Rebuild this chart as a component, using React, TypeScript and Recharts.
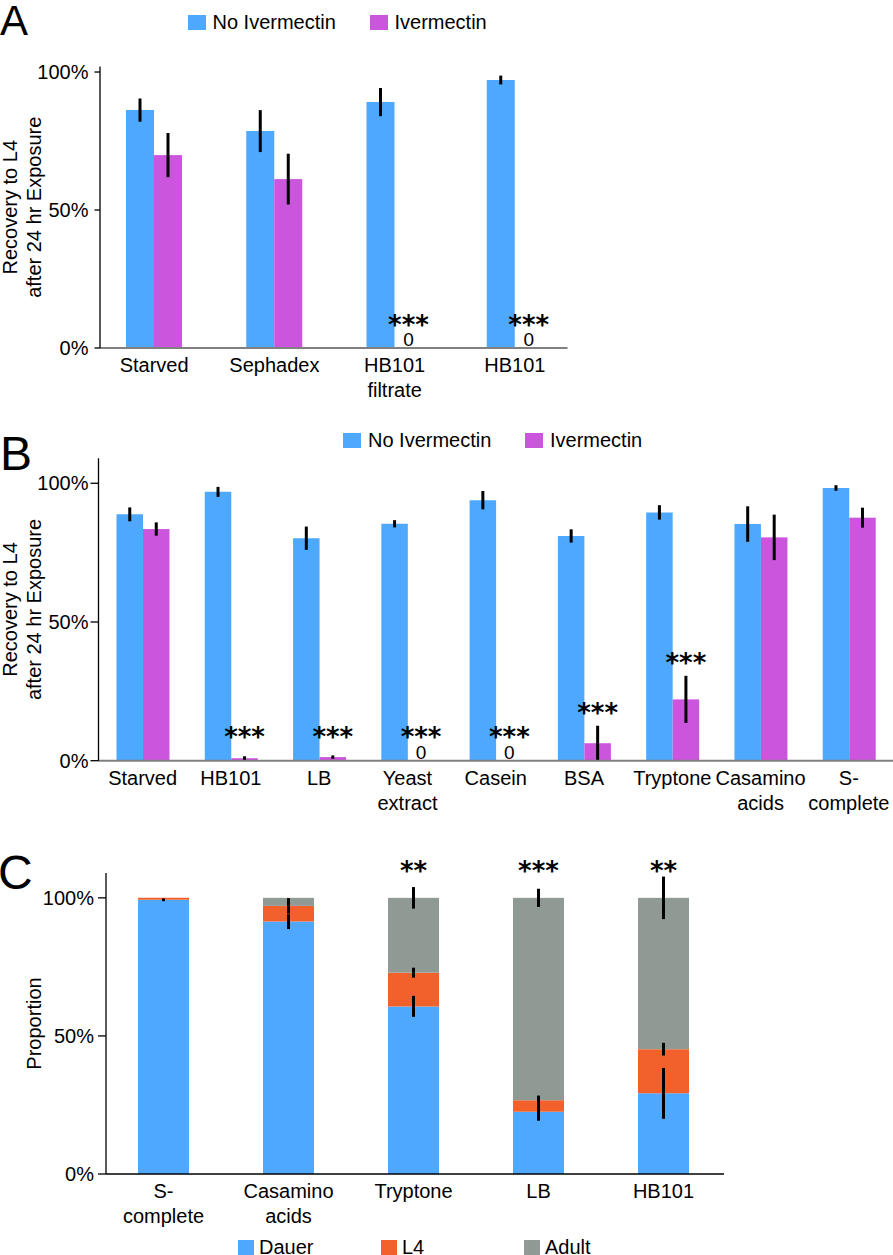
import React from 'react'
import { BarChart, Bar, XAxis, YAxis, ErrorBar, Legend } from 'recharts'

const FONT = '"Liberation Sans", Arial, Helvetica, sans-serif'
const STAR_FONT = '"DejaVu Sans", sans-serif'
const BLUE = '#4ea8fd'
const PURPLE = '#cc55de'
const ORANGE = '#f2602b'
const GREY = '#8e9a93'

// panel A
const catsA = ['Starved', 'Sephadex', 'HB101\nfiltrate', 'HB101']
const noIvmA = [0.862, 0.786, 0.891, 0.971]
const noIvmErrA = [0.042, 0.076, 0.051, 0.016]
const ivmA = [0.699, 0.612, 0, 0]
const ivmErrA = [0.08, 0.092, 0, 0]
const sigA = ['', '', '***', '***']

// panel B
const catsB = ['Starved', 'HB101', 'LB', 'Yeast\nextract', 'Casein', 'BSA', 'Tryptone', 'Casamino\nacids', 'S-\ncomplete']
const noIvmB = [0.888, 0.969, 0.802, 0.854, 0.939, 0.81, 0.895, 0.853, 0.983]
const noIvmErrB = [0.025, 0.018, 0.042, 0.013, 0.033, 0.024, 0.026, 0.064, 0.01]
const ivmB = [0.835, 0.009, 0.013, 0, 0, 0.063, 0.221, 0.805, 0.876]
const ivmErrB = [0.024, 0.007, 0.006, 0, 0, 0.063, 0.085, 0.082, 0.036]
const sigB = ['', '***', '***', '***', '***', '***', '***', '', '']

// panel C
const catsC = ['S-\ncomplete', 'Casamino\nacids', 'Tryptone', 'LB', 'HB101']
const dauerC = [0.993, 0.914, 0.607, 0.225, 0.292]
const l4C = [0.007, 0.057, 0.122, 0.042, 0.16]
const adultC = [0, 0.029, 0.271, 0.733, 0.548]
const dauerErrC = [0.005, 0.027, 0.038, 0.032, 0.092]
const l4ErrC = [0, 0.028, 0.018, 0.017, 0.023]
const adultErrC = [0, 0, 0.039, 0.033, 0.077]
const sigC = ['', '', '**', '***', '**']

const yTicks = [0, 0.5, 1]
const pct = (v: number) => `${Math.round(v * 100)}%`

const rowsA = catsA.map((name, i) => ({ name, noIvm: noIvmA[i], noIvmErr: noIvmErrA[i], ivm: ivmA[i], ivmErr: ivmErrA[i], sig: sigA[i] }))
const rowsB = catsB.map((name, i) => ({ name, noIvm: noIvmB[i], noIvmErr: noIvmErrB[i], ivm: ivmB[i], ivmErr: ivmErrB[i], sig: sigB[i] }))
const rowsC = catsC.map((name, i) => ({
  name, dauer: dauerC[i], l4: l4C[i], adult: adultC[i],
  dauerErr: dauerErrC[i], l4Err: l4ErrC[i], adultErr: adultErrC[i], sig: sigC[i],
}))

function CatTick(props: any) {
  const { x, y, payload } = props
  const lines = String(payload.value).split('\n')
  return (
    <text x={x} y={y + 24} textAnchor="middle" fontSize={20} fill="#000" fontFamily={FONT}>
      {lines.map((l, i) => (
        <tspan key={i} x={x} dy={i === 0 ? 0 : 25}>{l}</tspan>
      ))}
    </text>
  )
}

function YTitle({ viewBox, lines }: any) {
  const cy = viewBox.y + viewBox.height / 2
  const xs = [17, 41]
  return (
    <g>
      {lines.map((l: string, i: number) => (
        <text key={i} x={xs[i]} y={cy} transform={`rotate(-90, ${xs[i]}, ${cy})`}
          textAnchor="middle" fontSize={20} fill="#000" fontFamily={FONT}>{l}</text>
      ))}
    </g>
  )
}

function LegendRow({ payload, order, itemWidth, box, gap }: any) {
  const items = [...(payload || [])].sort((a: any, b: any) => order.indexOf(a.value) - order.indexOf(b.value))
  return (
    <div style={{ display: 'flex', fontFamily: FONT, fontSize: 20, lineHeight: '23px', color: '#000' }}>
      {items.map((e: any) => (
        <div key={e.value} style={{ width: itemWidth, display: 'flex', alignItems: 'center' }}>
          <span style={{ width: box, height: 15, background: e.color, marginRight: gap, flex: 'none' }} />
          <span style={{ whiteSpace: 'nowrap' }}>{e.value}</span>
        </div>
      ))}
    </div>
  )
}

// purple bar + significance marks, placed with the bar's own scale
const ivmShape = (yMax: number, plotH: number) => (p: any) => {
  const { x, y, width, height, payload, background } = p
  const zero = y + height
  const per = (background && background.height ? background.height : plotH) / yMax
  const errTop = zero - (payload.ivm + payload.ivmErr) * per
  const starMid = Math.min(zero - 28.5, errTop - 17.5)
  const cx = x + width / 2
  return (
    <g>
      {height > 0 && <rect x={x} y={y} width={width} height={height} fill={PURPLE} />}
      {payload.sig && (
        <text x={cx} y={starMid + 14} textAnchor="middle" fontSize={26} fontWeight="bold" fill="#000" fontFamily={STAR_FONT}>{payload.sig}</text>
      )}
      {payload.sig && payload.ivm === 0 && (
        <text x={cx} y={zero - 2} textAnchor="middle" fontSize={19} fill="#000" fontFamily={FONT}>0</text>
      )}
    </g>
  )
}

// top segment of panel C: draws the stacked error bars and the stars
const adultShape = (yMax: number, plotH: number) => (p: any) => {
  const { x, y, width, height, payload, background } = p
  const h = background && background.height ? background.height : plotH
  const zero = background && background.height ? background.y + background.height : y + height
  const per = h / yMax
  const cx = x + width / 2
  const tops = [payload.dauer, payload.dauer + payload.l4, payload.dauer + payload.l4 + payload.adult]
  const errs = [payload.dauerErr, payload.l4Err, payload.adultErr]
  return (
    <g>
      {height > 0 && <rect x={x} y={y} width={width} height={height} fill={GREY} />}
      {errs.map((e, i) => e > 0 && (
        <line key={i} x1={cx} x2={cx} y1={zero - (tops[i] + e) * per} y2={zero - (tops[i] - e) * per} stroke="#000" strokeWidth={3} />
      ))}
      {payload.sig && (
        <text x={cx} y={zero - per - 32 + 14} textAnchor="middle" fontSize={26} fontWeight="bold" fill="#000" fontFamily={STAR_FONT}>{payload.sig}</text>
      )}
    </g>
  )
}

function IvmPanel({ data, width, height, yAxisW, margin, xAxisH, yMax, padding, barSize, legendPos, tickSize, tickMargin }: any) {
  const plotH = height - margin.top - xAxisH
  return (
    <BarChart width={width} height={height} data={data} margin={margin} barGap={0} barSize={barSize}>
      <XAxis dataKey="name" height={xAxisH} padding={padding} tickLine={false} tickSize={0} tickMargin={0}
        axisLine={{ stroke: '#808080', strokeWidth: 2 }} tick={<CatTick />} interval={0} />
      <YAxis type="number" width={yAxisW} domain={[0, yMax]} ticks={yTicks} tickFormatter={pct}
        axisLine={{ stroke: '#000', strokeWidth: 1.3 }} tickLine={{ stroke: '#000', strokeWidth: 1.3 }}
        tickSize={tickSize} tickMargin={tickMargin}
        tick={{ fontSize: 20, fill: '#000', fontFamily: FONT }}
        label={{ content: (lp: any) => <YTitle viewBox={lp.viewBox} lines={['Recovery to L4', 'after 24 hr Exposure']} /> }} />
      <Legend layout="horizontal" verticalAlign="middle" align="center"
        wrapperStyle={{ left: legendPos[0], top: legendPos[1], width: 'auto', height: 'auto' }}
        content={(lp: any) => <LegendRow payload={lp.payload} order={['No Ivermectin', 'Ivermectin']} itemWidth={182} box={18} gap={7} />} />
      <Bar dataKey="noIvm" name="No Ivermectin" fill={BLUE} isAnimationActive={false}>
        <ErrorBar dataKey="noIvmErr" width={0} strokeWidth={3} stroke="#000" />
      </Bar>
      <Bar dataKey="ivm" name="Ivermectin" fill={PURPLE} isAnimationActive={false} shape={ivmShape(yMax, plotH)}>
        <ErrorBar dataKey="ivmErr" width={0} strokeWidth={3} stroke="#000" />
      </Bar>
    </BarChart>
  )
}

export default function App() {
  const cTop = 53
  const cXAxisH = 81
  const cH = 435
  return (
    <div style={{ position: 'absolute', left: 0, top: 0, width: 893, height: 1255, overflow: 'hidden', background: '#fff', fontFamily: FONT }}>
      <div style={{ position: 'absolute', left: 0, top: 0 }}>
        <IvmPanel data={rowsA} width={600} height={400} yAxisW={100} margin={{ top: 66.5, right: 32.5, left: 0, bottom: 0 }}
          xAxisH={52} yMax={1.02} padding={{ left: -6, right: -7.5 }} barSize={28} legendPos={[187.5, 11]} tickSize={5.5} tickMargin={6} />
      </div>
      <div style={{ position: 'absolute', left: 0, top: 420 }}>
        <IvmPanel data={rowsB} width={893} height={400} yAxisW={98.5} margin={{ top: 38.3, right: 0, left: 0, bottom: 0 }}
          xAxisH={59.3} yMax={1.09} padding={{ left: 0, right: 0 }} barSize={26.5} legendPos={[343, 9.3]} tickSize={8} tickMargin={2} />
      </div>
      <div style={{ position: 'absolute', left: 0, top: 820 }}>
        <BarChart width={893} height={cH} data={rowsC} margin={{ top: cTop, right: 169, left: 0, bottom: 0 }} barSize={51}>
          <XAxis dataKey="name" height={cXAxisH} padding={{ left: -5, right: -2 }} tickLine={false} tickSize={0} tickMargin={0}
            axisLine={{ stroke: '#000', strokeWidth: 1.5 }} tick={<CatTick />} interval={0} />
          <YAxis type="number" width={106} domain={[0, 1.09]} ticks={yTicks} tickFormatter={pct}
            axisLine={{ stroke: '#000', strokeWidth: 1.3 }} tickLine={{ stroke: '#000', strokeWidth: 1.3 }}
            tickSize={8} tickMargin={4} tick={{ fontSize: 20, fill: '#000', fontFamily: FONT }}
            label={{ content: (lp: any) => <YTitle viewBox={lp.viewBox} lines={['', 'Proportion']} /> }} />
          <Legend layout="horizontal" verticalAlign="middle" align="center"
            wrapperStyle={{ left: 238, top: 416, width: 'auto', height: 'auto' }}
            content={(lp: any) => <LegendRow payload={lp.payload} order={['Dauer', 'L4', 'Adult']} itemWidth={143} box={16} gap={5} />} />
          <Bar dataKey="dauer" name="Dauer" stackId="s" fill={BLUE} isAnimationActive={false} />
          <Bar dataKey="l4" name="L4" stackId="s" fill={ORANGE} isAnimationActive={false} />
          <Bar dataKey="adult" name="Adult" stackId="s" fill={GREY} isAnimationActive={false}
            shape={adultShape(1.09, cH - cTop - cXAxisH)} />
        </BarChart>
      </div>
      <svg width={893} height={1255} style={{ position: 'absolute', left: 0, top: 0, pointerEvents: 'none' }}>
        <text x={0} y={35} fontSize={42} fill="#000" fontFamily={FONT}>A</text>
        <text x={0} y={470} fontSize={48} fill="#000" fontFamily={FONT}>B</text>
        <text x={-2} y={889} fontSize={48} fill="#000" fontFamily={FONT}>C</text>
      </svg>
    </div>
  )
}
